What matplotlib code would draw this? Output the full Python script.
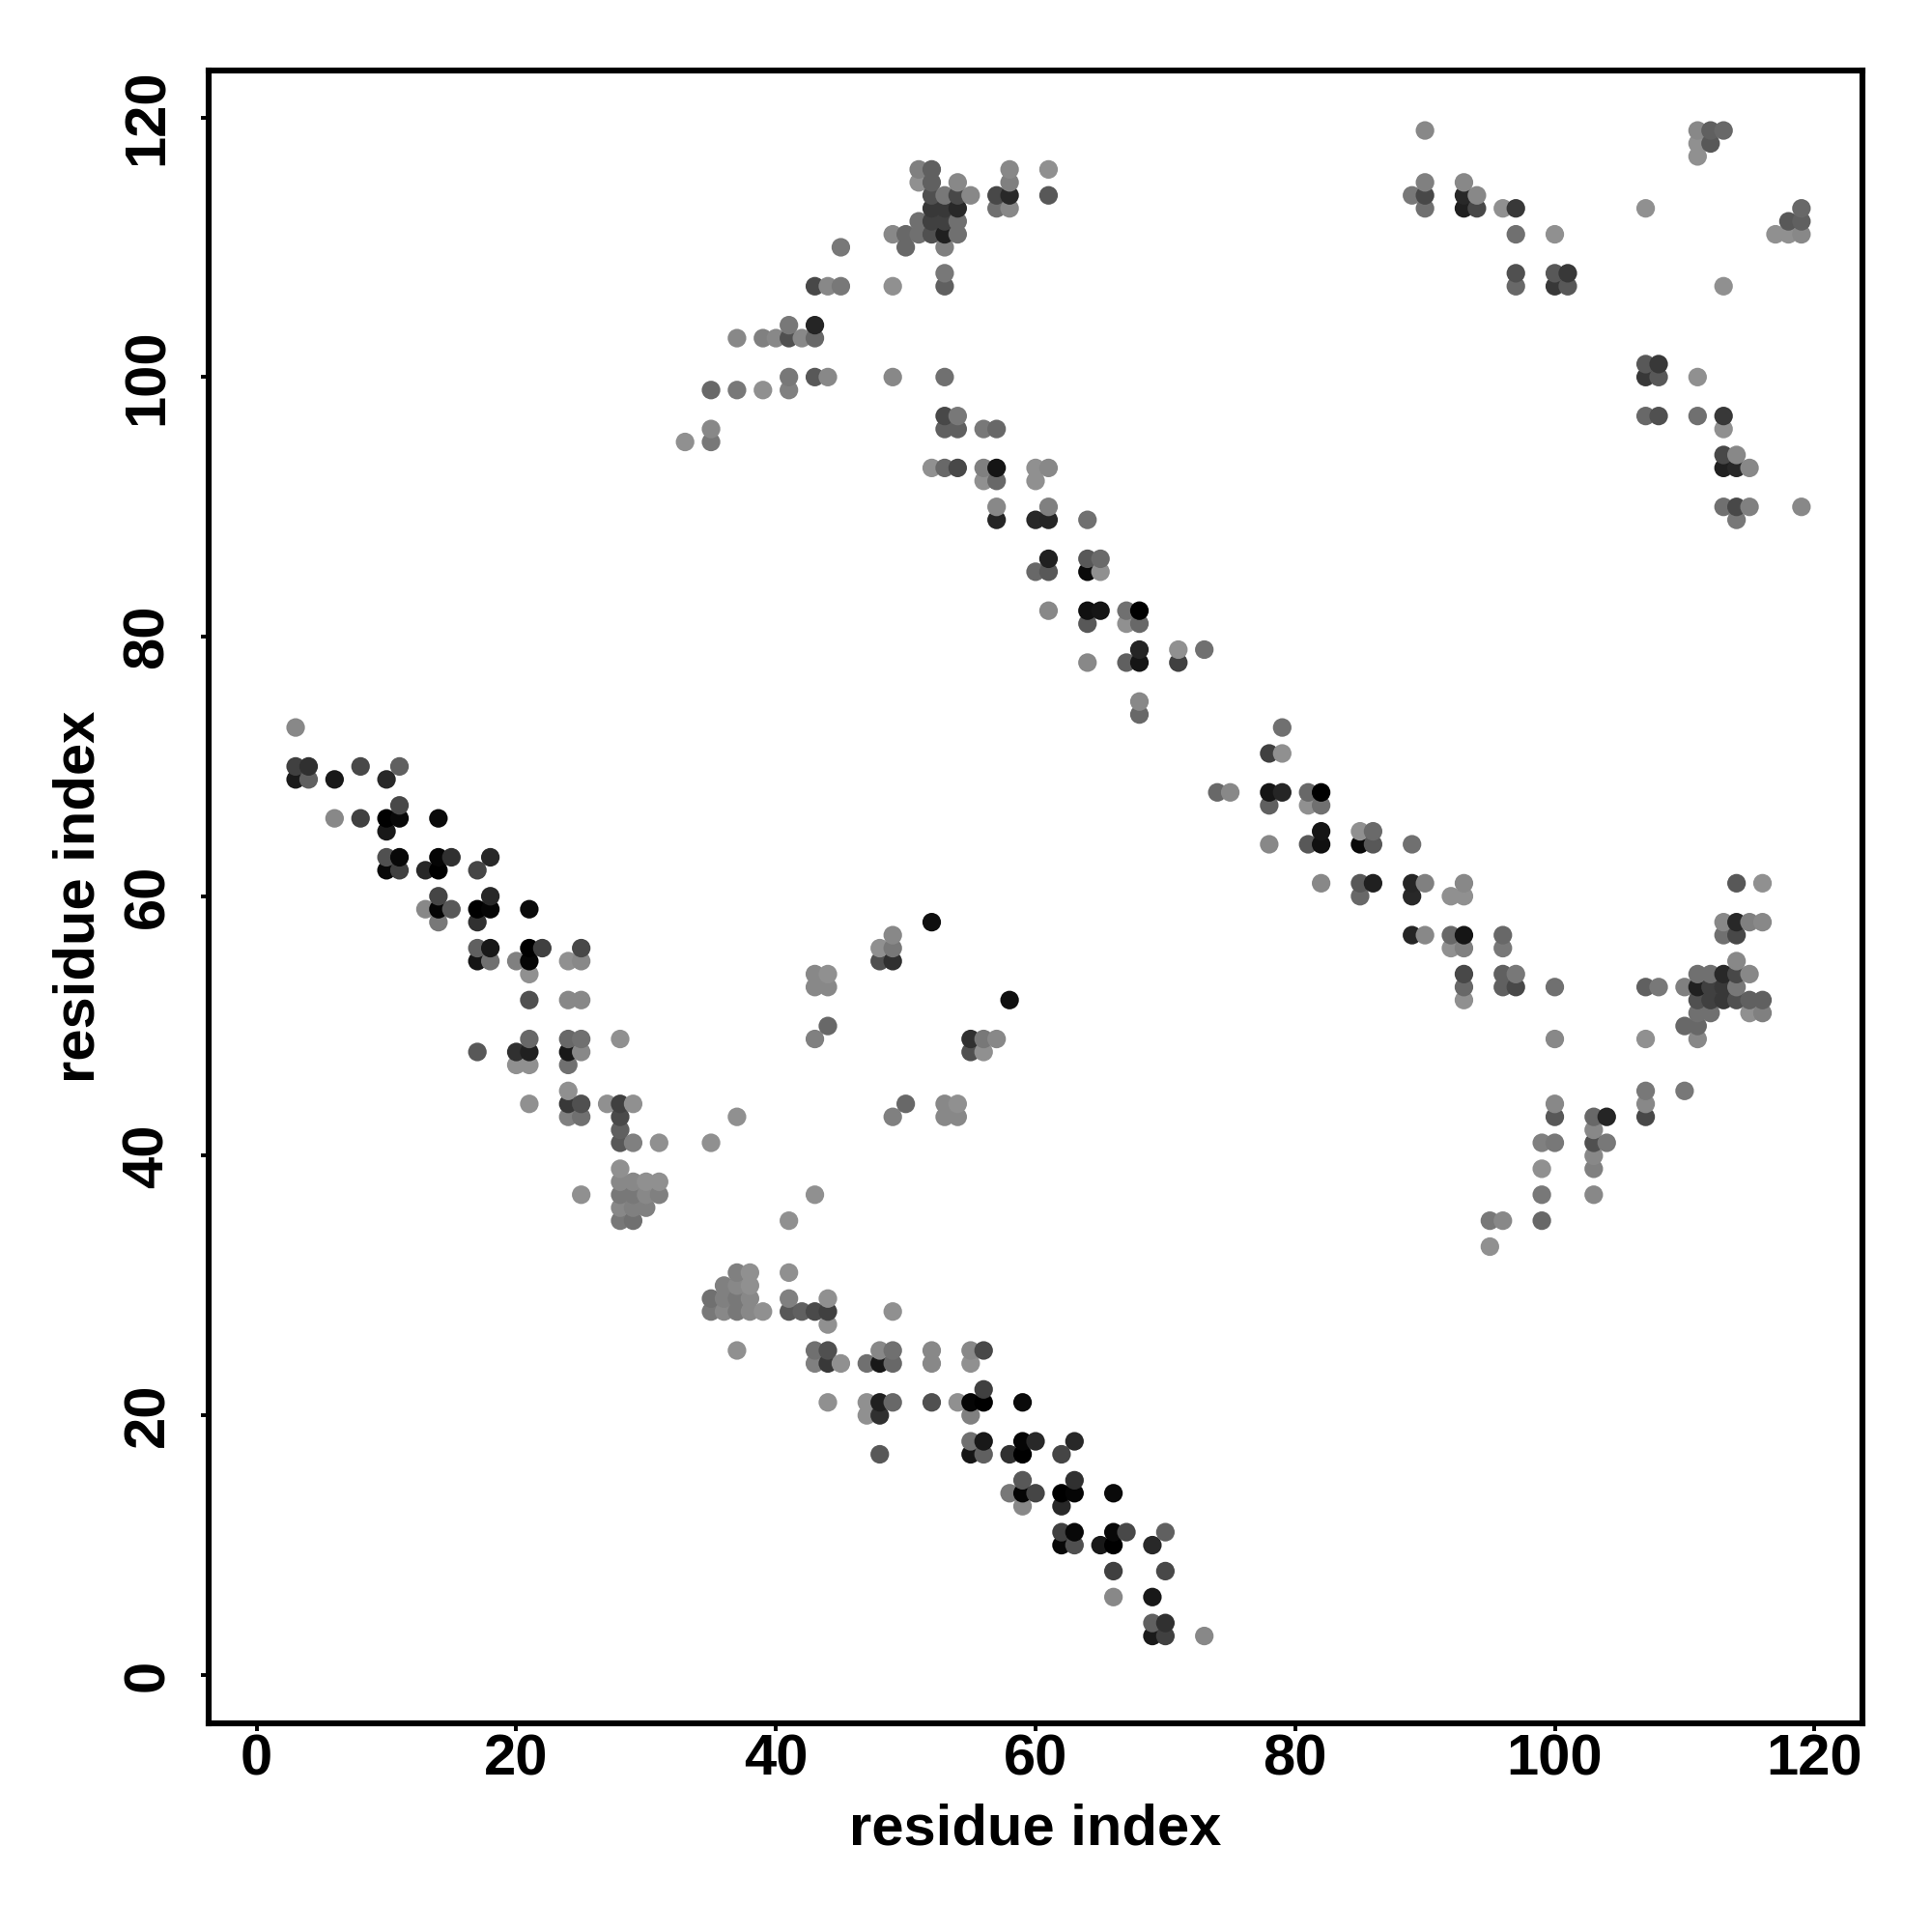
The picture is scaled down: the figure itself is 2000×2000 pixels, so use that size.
import numpy as np
from matplotlib import pyplot as plt

# contact map, symmetric: only i < j is listed, the mirror is drawn below
# grey is the 0-255 level of each dot

# lower band, residues 3-31 against 35-73
low_i = [3, 3, 4, 3, 4, 6, 8, 10, 11,
         6, 8, 10, 11, 11, 14, 10,
         10, 11, 10, 11, 13, 14, 14, 15, 17, 18,
         14, 13, 14, 15, 14, 17, 18, 18, 17, 21,
         17, 18, 17, 18, 20, 21, 21, 22, 21, 24, 25, 25,
         21, 24, 25,
         21, 24, 25, 28,
         17, 20, 21, 24, 25, 20, 21, 24,
         24, 21, 24, 25, 27, 28, 29, 24, 25, 28, 37,
         28, 28, 29, 31, 35,
         28, 28, 29, 30, 31, 25, 28, 29, 30, 31, 28, 29, 30, 28, 29]
low_j = [73, 70, 70, 69, 69, 69, 70, 69, 70,
         66, 66, 66, 66, 67, 66, 65,
         63, 63, 62, 62, 62, 63, 62, 63, 62, 63,
         60, 59, 59, 59, 58, 59, 59, 60, 58, 59,
         56, 56, 55, 55, 55, 56, 55, 56, 54, 55, 55, 56,
         52, 52, 52,
         49, 49, 49, 49,
         48, 48, 48, 48, 48, 47, 47, 47,
         45, 44, 44, 44, 44, 44, 44, 43, 43, 43, 43,
         42, 41, 41, 41, 41,
         39, 38, 38, 38, 38, 37, 37, 37, 37, 37, 36, 36, 36, 35, 35]
low_grey = [0x88, 0x40, 0x30, 0x1a, 0x60, 0x18, 0x48, 0x28, 0x60,
            0x88, 0x40, 0x00, 0x08, 0x48, 0x0a, 0x18,
            0x50, 0x08, 0x08, 0x40, 0x28, 0x05, 0x00, 0x30, 0x45, 0x28,
            0x45, 0x88, 0x05, 0x58, 0x78, 0x00, 0x05, 0x28, 0x30, 0x0a,
            0x60, 0x18, 0x15, 0x70, 0x80, 0x00, 0x05, 0x40, 0x90, 0x90, 0x88, 0x48,
            0x50, 0x88, 0x88,
            0x68, 0x68, 0x70, 0x90,
            0x58, 0x30, 0x20, 0x18, 0x88, 0x90, 0x90, 0x70,
            0x90, 0x90, 0x38, 0x50, 0x90, 0x40, 0x90, 0x80, 0x70, 0x4a, 0x90,
            0x60, 0x58, 0x80, 0x90, 0x90,
            0x90, 0x88, 0x88, 0x90, 0x90, 0x90, 0x78, 0x78, 0x88, 0x80, 0x88, 0x80, 0x80, 0x78, 0x70]

# off-band patches near the middle
mid_i = [43, 44, 43, 44, 43, 44, 48, 49, 48, 49, 49, 52]
mid_j = [49, 50, 53, 53, 54, 54, 55, 55, 56, 56, 57, 58]
mid_grey = [0x80, 0x68, 0x88, 0x88, 0x88, 0x90, 0x50, 0x30, 0x90, 0x78, 0x88, 0x0f]

# upper band, residues 33-73 against 74-116
top_i = [33, 35, 35,
         35, 37, 39, 41, 41, 43, 44, 49, 53,
         37, 39, 40, 41, 42, 43, 41, 43,
         43, 44, 45, 49, 53, 53,
         45, 50, 53,
         49, 50, 51, 52, 53, 54, 51, 52, 53, 54,
         52, 53, 54, 57, 58,
         52, 53, 54, 55, 57, 58, 61,
         51, 52, 54, 58, 51, 52, 58, 61,
         53, 54, 56, 57, 53, 54,
         52, 53, 54, 56, 57, 60, 61,
         56, 57, 60, 57, 61, 57, 60, 61, 64,
         61, 64, 65, 60, 61, 64, 65,
         61, 64, 65, 67, 68, 64, 67, 68,
         68, 71, 73, 64, 67, 68, 71, 68, 68]
top_j = [95, 95, 96,
         99, 99, 99, 99, 100, 100, 100, 100, 100,
         103, 103, 103, 103, 103, 103, 104, 104,
         107, 107, 107, 107, 107, 108,
         110, 110, 110,
         111, 111, 111, 111, 111, 111, 112, 112, 112, 112,
         113, 113, 113, 113, 113,
         114, 114, 114, 114, 114, 114, 114,
         115, 115, 115, 115, 116, 116, 116, 116,
         96, 96, 96, 96, 97, 97,
         93, 93, 93, 93, 93, 93, 93,
         92, 92, 92, 90, 90, 89, 89, 89, 89,
         86, 86, 86, 85, 85, 85, 85,
         82, 82, 82, 82, 82, 81, 81, 81,
         79, 79, 79, 78, 78, 78, 78, 75, 74]
top_grey = [0x90, 0x78, 0x88,
            0x68, 0x78, 0x90, 0x80, 0x78, 0x58, 0x88, 0x88, 0x70,
            0x88, 0x80, 0x88, 0x50, 0x88, 0x68, 0x78, 0x25,
            0x48, 0x88, 0x78, 0x90, 0x60, 0x78,
            0x78, 0x68, 0x80,
            0x88, 0x68, 0x70, 0x50, 0x20, 0x70, 0x70, 0x40, 0x40, 0x70,
            0x38, 0x38, 0x28, 0x70, 0x88,
            0x50, 0x78, 0x48, 0x88, 0x48, 0x28, 0x58,
            0x90, 0x60, 0x88, 0x80, 0x80, 0x60, 0x88, 0x90,
            0x60, 0x60, 0x78, 0x68, 0x48, 0x78,
            0x90, 0x68, 0x48, 0x80, 0x15, 0x90, 0x88,
            0x90, 0x68, 0x90, 0x88, 0x80, 0x25, 0x28, 0x25, 0x70,
            0x20, 0x58, 0x6a, 0x68, 0x58, 0x0a, 0x90,
            0x88, 0x10, 0x15, 0x70, 0x00, 0x58, 0x90, 0x68,
            0x25, 0x90, 0x70, 0x88, 0x60, 0x15, 0x40, 0x88, 0x68]

# top right corner
far_i = [89, 90, 90, 90, 90, 93, 93, 93, 94, 94, 96, 97, 97, 97, 97,
         100, 100, 100, 101, 101, 107, 111, 111, 111, 112, 112, 113]
far_j = [114, 113, 114, 115, 119, 113, 114, 115, 113, 114, 113, 107, 108, 111, 113,
         107, 108, 111, 107, 108, 113, 117, 118, 119, 118, 119, 119]
far_grey = [0x78, 0x70, 0x48, 0x80, 0x88, 0x20, 0x28, 0x88, 0x48, 0x88, 0x90, 0x68, 0x50, 0x70, 0x38,
            0x38, 0x58, 0x90, 0x58, 0x38, 0x90, 0x90, 0x90, 0x88, 0x58, 0x60, 0x68]

tick_values = [0, 20, 40, 60, 80, 100, 120]

plt.rcParams["font.family"] = ["Liberation Sans", "DejaVu Sans"]
plt.rcParams["font.weight"] = "bold"

fig = plt.figure(figsize=(10, 10), dpi=200)
ax = fig.add_axes([0.108, 0.1082, 0.856, 0.8555])

i_all = np.array(low_i + mid_i + top_i + far_i)
j_all = np.array(low_j + mid_j + top_j + far_j)
grey_all = np.array(low_grey + mid_grey + top_grey + far_grey)

x = np.concatenate([i_all, j_all])
y = np.concatenate([j_all, i_all])
g = np.concatenate([grey_all, grey_all]) / 255

# x first then y, that is the stacking seen in the overlaps
order = np.lexsort((y, x))
ax.scatter(x[order], y[order], s=48, c=np.column_stack([g[order]] * 3), linewidths=0, zorder=3)

ax.set_xlim(-3.7, 123.7)
ax.set_ylim(-3.7, 123.65)
ax.set_xticks(tick_values)
ax.set_yticks(tick_values)
ax.tick_params(length=3, width=1.4, labelsize=21.5)
ax.tick_params(axis="x", pad=1)
ax.tick_params(axis="y", pad=9.6)
for lab in ax.get_yticklabels():
    lab.set_rotation(90)
    lab.set_verticalalignment("center")
for spine in ax.spines.values():
    spine.set_linewidth(2.2)

ax.set_xlabel("residue index", fontsize=21.5, fontweight="bold", labelpad=6.1)
ax.set_ylabel("residue index", fontsize=21.5, fontweight="bold", labelpad=5.8)

fig.savefig("out.png", dpi=200)
